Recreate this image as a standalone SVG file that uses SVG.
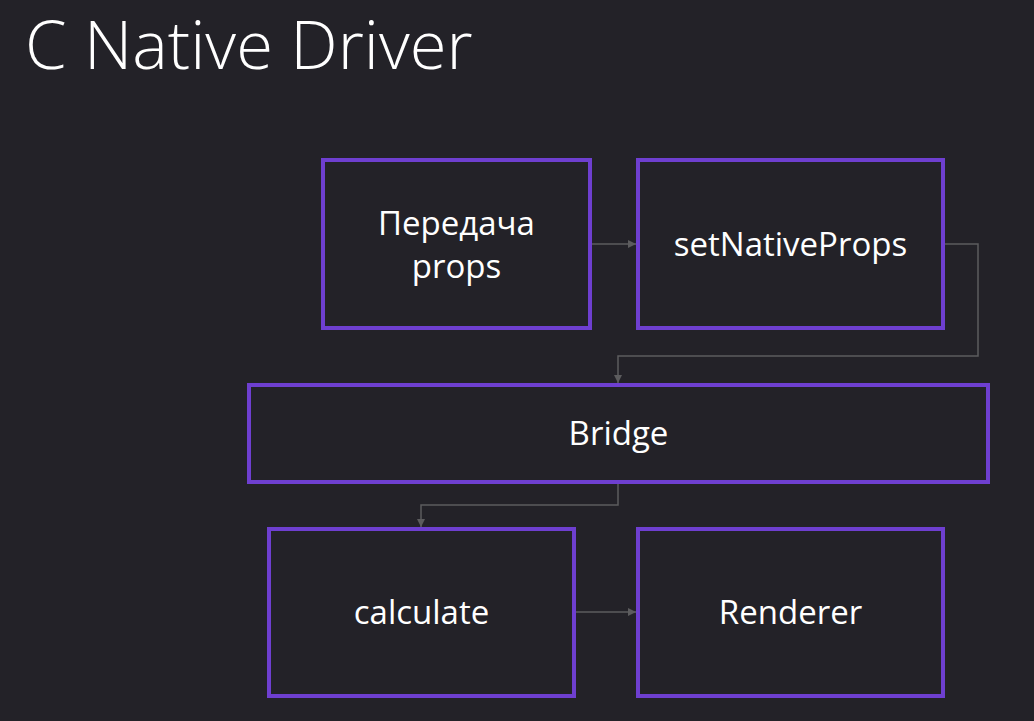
<svg xmlns="http://www.w3.org/2000/svg" width="1034" height="721" viewBox="0 0 1034 721">
<defs>
<style>
.node rect{fill:none;stroke:#6e3fd0;stroke-width:4}
.node text{fill:#ffffff;font-family:"Open Sans","Noto Sans",sans-serif;font-size:33px;text-anchor:middle}
.title{fill:#ffffff;font-family:"Open Sans","Noto Sans",sans-serif;font-weight:300;font-size:67px}
.edge{fill:none;stroke:#5c5c5e;stroke-width:1.5}
</style>
<marker id="arr" viewBox="0 0 10 10" refX="10" refY="5" markerWidth="8" markerHeight="8" markerUnits="userSpaceOnUse" orient="auto">
<path d="M0,0 L10,5 L0,10 z" fill="#5c5c5e"/>
</marker>
</defs>
<rect x="0" y="0" width="1034" height="721" fill="#232228"/>
<text class="title" x="25" y="69">C Native Driver</text>
<g id="connectors">
<path class="edge" d="M590,244 H636" marker-end="url(#arr)"/>
<path class="edge" d="M943,244 H978 V356 H618 V383" marker-end="url(#arr)"/>
<path class="edge" d="M618,482 V505 H421 V527" marker-end="url(#arr)"/>
<path class="edge" d="M574,612 H636" marker-end="url(#arr)"/>
</g>
<g id="peredacha" class="node">
<rect x="323" y="160" width="267" height="168"/>
<text x="456.5" y="235">Передача</text>
<text x="456.5" y="278">props</text>
</g>
<g id="setNativeProps" class="node">
<rect x="638" y="160" width="305" height="168"/>
<text x="790.5" y="256">setNativeProps</text>
</g>
<g id="bridge" class="node">
<rect x="249" y="385" width="739" height="97"/>
<text x="618.5" y="445">Bridge</text>
</g>
<g id="calculate" class="node">
<rect x="269" y="529" width="305" height="167"/>
<text x="421.5" y="624">calculate</text>
</g>
<g id="renderer" class="node">
<rect x="638" y="529" width="305" height="167"/>
<text x="790.5" y="624">Renderer</text>
</g>
</svg>
